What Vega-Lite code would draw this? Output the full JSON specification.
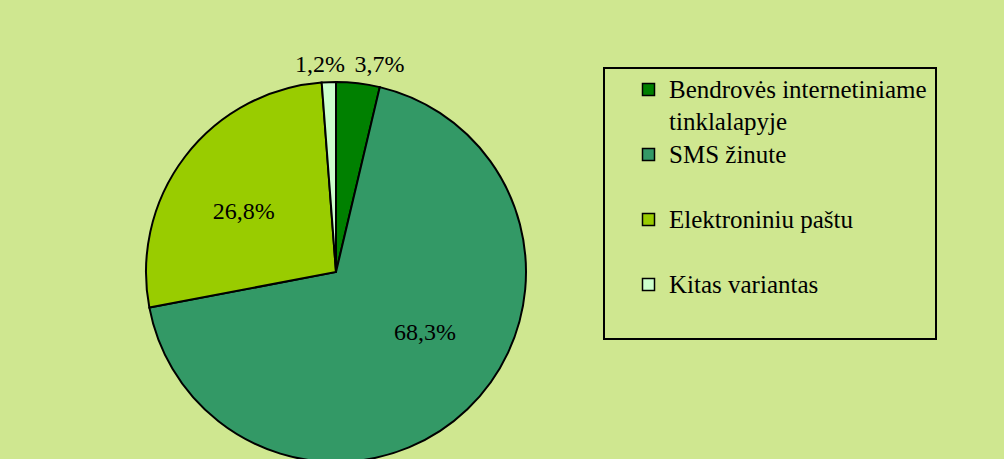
{
  "$schema": "https://vega.github.io/schema/vega-lite/v6.json",
  "width": 672,
  "height": 374,
  "autosize": "none",
  "padding": {"left": 0, "top": 85, "right": 332, "bottom": 0},
  "background": "#cfe790",
  "config": {
    "view": {"stroke": null},
    "font": "Liberation Serif",
    "legend": {"strokeWidth": 2}
  },
  "data": {
    "values": [
      {"cat": "Bendrovės internetiniame tinklalapyje", "value": 3.7, "label": "3,7%", "n": 1},
      {"cat": "SMS žinute", "value": 68.3, "label": "68,3%", "n": 2},
      {"cat": "Elektroniniu paštu", "value": 26.8, "label": "26,8%", "n": 3},
      {"cat": "Kitas variantas", "value": 1.2, "label": "1,2%", "n": 4}
    ]
  },
  "encoding": {
    "theta": {"field": "value", "type": "quantitative", "stack": true},
    "order": {"field": "n", "type": "quantitative"}
  },
  "layer": [
    {
      "mark": {"type": "arc", "outerRadius": 190, "stroke": "black", "strokeWidth": 2},
      "encoding": {
        "color": {
          "field": "cat",
          "type": "nominal",
          "sort": ["Bendrovės internetiniame tinklalapyje", "SMS žinute", "Elektroniniu paštu", "Kitas variantas"],
          "scale": {
            "domain": ["Bendrovės internetiniame tinklalapyje", "SMS žinute", "Elektroniniu paštu", "Kitas variantas"],
            "range": ["#008000", "#339966", "#99CC00", "#CCFFCC"]
          },
          "legend": {
            "title": null,
            "orient": "none",
            "legendX": 604,
            "legendY": -17,
            "symbolType": "square",
            "symbolSize": 144,
            "symbolStrokeColor": "black",
            "symbolStrokeWidth": 1.5,
            "labelFont": "Liberation Serif",
            "labelFontSize": 25,
            "labelColor": "black",
            "labelOffset": 8,
            "labelLimit": 500,
            "rowPadding": 7,
            "padding": 9,
            "symbolOffset": 23,
            "strokeColor": "black",
            "labelExpr": "datum.label == 'Bendrovės internetiniame tinklalapyje' ? ['Bendrovės internetiniame', 'tinklalapyje'] : [datum.label, '\u00a0']",
            "encode": {"labels": {"update": {"lineHeight": {"value": 32}}}}
          }
        }
      }
    },
    {
      "mark": {"type": "text", "radius": 110, "dx": 13, "dy": -18, "fontSize": 24, "font": "Liberation Serif", "color": "black"},
      "encoding": {
        "detail": {"field": "cat", "type": "nominal"},
        "text": {"condition": {"test": "datum.n == 2", "field": "label"}, "value": ""}
      }
    },
    {
      "mark": {"type": "text", "radius": 110, "dx": -5, "dy": 7, "fontSize": 24, "font": "Liberation Serif", "color": "black"},
      "encoding": {
        "detail": {"field": "cat", "type": "nominal"},
        "text": {"condition": {"test": "datum.n == 3", "field": "label"}, "value": ""}
      }
    },
    {
      "mark": {"type": "text", "radius": 212, "dx": 19, "dy": 4, "fontSize": 24, "font": "Liberation Serif", "color": "black"},
      "encoding": {
        "detail": {"field": "cat", "type": "nominal"},
        "text": {"condition": {"test": "datum.n == 1", "field": "label"}, "value": ""}
      }
    },
    {
      "mark": {"type": "text", "radius": 212, "dx": -8, "dy": 5, "fontSize": 24, "font": "Liberation Serif", "color": "black"},
      "encoding": {
        "detail": {"field": "cat", "type": "nominal"},
        "text": {"condition": {"test": "datum.n == 4", "field": "label"}, "value": ""}
      }
    }
  ]
}
